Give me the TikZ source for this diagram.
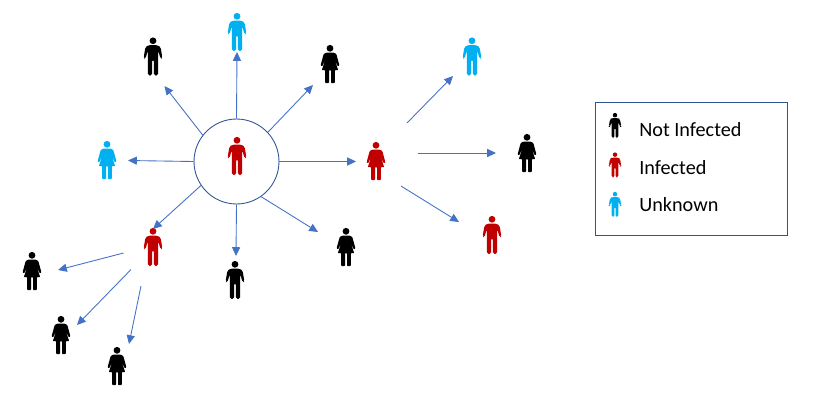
\documentclass[tikz,border=0pt]{standalone}
\usepackage{fontspec}
\setmainfont{Carlito}
\usetikzlibrary{arrows.meta}
\definecolor{infected}{HTML}{C00000}
\definecolor{unknown}{HTML}{00B0F0}
\definecolor{flowblue}{HTML}{4472C4}
\definecolor{rimblue}{HTML}{2F5597}
\tikzset{
    flow/.style={draw=flowblue, line width=0.5pt, -{Triangle[length=5pt,width=4.6pt]}},
    hubring/.style={circle, draw=rimblue, line width=0.5pt, minimum size=1.7cm, inner sep=0pt},
    legendbox/.style={rectangle, draw=rimblue, line width=0.55pt, minimum width=3.84cm, minimum height=2.66cm},
    legendtext/.style={anchor=west, inner sep=0pt, font=\fontsize{11.5}{13}\selectfont},
    man/.pic={
        \fill (0,-15.7) circle (3.4);
        \fill[rounded corners=1pt] (-5,-11.3) -- (5,-11.3) -- (7.6,-9.5) -- (9.4,1.6) -- (7.6,2.4)
            -- (5.2,-6) -- (5.2,19) -- (0.8,19) -- (0.8,3) -- (-0.8,3) -- (-0.8,19) -- (-5.2,19)
            -- (-5.2,-6) -- (-7.6,2.4) -- (-9.4,1.6) -- (-7.6,-9.5) -- cycle;
    },
    woman/.pic={
        \fill (0,-15.7) circle (3.4);
        \fill[rounded corners=0.4pt] (-4.2,-11.3) -- (4.2,-11.3) -- (6.4,-9.8) -- (9.4,1.4) -- (7.8,2.4)
            -- (4.2,-6) -- (8.2,6.2) -- (4.8,6.2) -- (4.8,19) -- (1,19) -- (1,6.2) -- (-1,6.2) -- (-1,19) -- (-4.8,19)
            -- (-4.8,6.2) -- (-8.2,6.2) -- (-4.2,-6) -- (-7.8,2.4) -- (-9.4,1.4) -- (-6.4,-9.8) -- cycle;
    }
}

\begin{document}
\begin{tikzpicture}[x=0.02cm, y=-0.02cm]
    \useasboundingbox (0,0) rectangle (815,400);

    % Central case
    \node[hubring] (hub) at (236.5,161.5) {};
    \pic[infected] (centre) at (237,156) {man};

    % First ring
    \pic[black] (contactA) at (153,56.5) {man};
    \pic[unknown] (contactB) at (237,32) {man};
    \pic[black] (contactC) at (330,64) {woman};
    \pic[unknown] (contactD) at (107,160) {woman};
    \pic[infected] (contactE) at (376,161) {woman};
    \pic[infected] (contactF) at (153,247) {man};
    \pic[black] (contactG) at (235,280) {man};
    \pic[black] (contactH) at (346,247) {woman};

    % Right branch
    \pic[unknown] (rightA) at (472,56.5) {man};
    \pic[black] (rightB) at (527,153) {woman};
    \pic[infected] (rightC) at (492,235) {man};

    % Lower left branch
    \pic[black] (lowerA) at (32,271) {woman};
    \pic[black] (lowerB) at (61,335) {woman};
    \pic[black] (lowerC) at (117,366) {woman};

    % Free arrow ends
    \coordinate (endA) at (164.5,86);
    \coordinate (endB) at (237,52);
    \coordinate (endC) at (313,85);
    \coordinate (endD) at (128,160.5);
    \coordinate (endE) at (356,161.5);
    \coordinate (endF) at (153,229);
    \coordinate (endG) at (236,256);
    \coordinate (endH) at (318,232);

    \coordinate (fromRA) at (407,123);
    \coordinate (endRA) at (453,76);
    \coordinate (fromRB) at (418,153);
    \coordinate (endRB) at (496,153);
    \coordinate (fromRC) at (401,186);
    \coordinate (endRC) at (459,222);

    \coordinate (fromLA) at (123.5,253);
    \coordinate (endLA) at (58,270);
    \coordinate (fromLB) at (131,269.5);
    \coordinate (endLB) at (77,325);
    \coordinate (fromLC) at (141,286);
    \coordinate (endLC) at (129,344);

    % Arrows
    \draw[flow] (hub.142) -- (endA);
    \draw[flow] (hub.north) -- (endB);
    \draw[flow] (hub.43) -- (endC);
    \draw[flow] (hub.west) -- (endD);
    \draw[flow] (hub.east) -- (endE);
    \draw[flow] (hub.214) -- (endF);
    \draw[flow] (hub.south) -- (endG);
    \draw[flow] (hub.305) -- (endH);

    \draw[flow] (fromRA) -- (endRA);
    \draw[flow] (fromRB) -- (endRB);
    \draw[flow] (fromRC) -- (endRC);

    \draw[flow] (fromLA) -- (endLA);
    \draw[flow] (fromLB) -- (endLB);
    \draw[flow] (fromLC) -- (endLC);

    % Legend
    \node[legendbox] (legend) at (691,168.5) {};
    \pic[black, scale=0.66] (keyA) at (615,125.5) {man};
    \pic[infected, scale=0.66] (keyB) at (615,165) {man};
    \pic[unknown, scale=0.66] (keyC) at (615,204.5) {man};
    \node[legendtext] (labelA) at (639,129.5) {Not Infected};
    \node[legendtext] (labelB) at (639,167.5) {Infected};
    \node[legendtext] (labelC) at (639,204.5) {Unknown};
\end{tikzpicture}
\end{document}
